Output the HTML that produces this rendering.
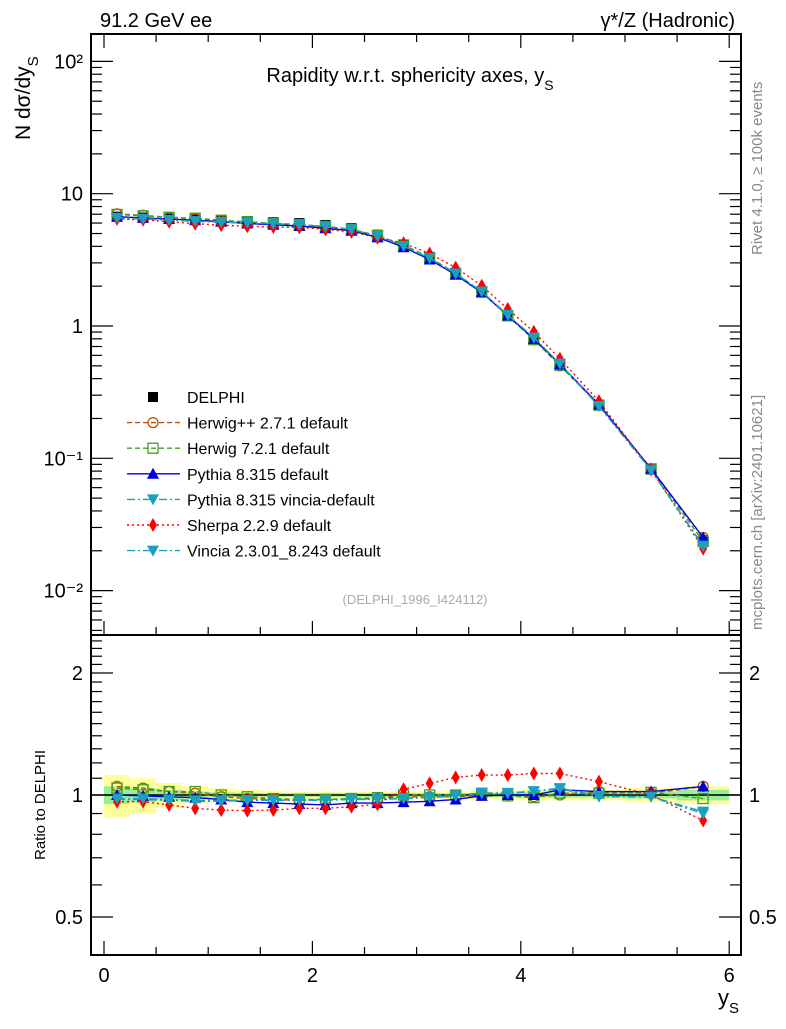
<!DOCTYPE html>
<html><head><meta charset="utf-8"><style>
body{margin:0;background:#fff}
svg text{font-family:"Liberation Sans",sans-serif}
</style></head><body>
<svg id="c" width="786" height="1024" xmlns="http://www.w3.org/2000/svg">
<rect width="786" height="1024" fill="#fff"/>
<g id="bands"></g>
<g id="marks"></g>
<g id="axes"></g>
<g id="legend"></g>
<text x="100" y="27" font-size="20">91.2 GeV ee</text>
<text x="735" y="27" font-size="20" text-anchor="end">γ*/Z (Hadronic)</text>
<text x="410" y="82" font-size="20" text-anchor="middle">Rapidity w.r.t. sphericity axes, y<tspan font-size="14" dy="8">S</tspan></text>
<text transform="translate(30,140) rotate(-90)" font-size="21">N  dσ/dy<tspan font-size="15" dy="8">S</tspan></text>
<text transform="translate(45,860) rotate(-90)" font-size="15">Ratio to DELPHI</text>
<text x="718" y="1005" font-size="22">y<tspan font-size="15" dy="8">S</tspan></text>
<text transform="translate(762,255) rotate(-90)" font-size="15" fill="#888">Rivet 4.1.0, ≥ 100k events</text>
<text transform="translate(762,630) rotate(-90)" font-size="15" fill="#888">mcplots.cern.ch [arXiv:2401.10621]</text>
<text x="415" y="604" font-size="13" fill="#aaa" text-anchor="middle">(DELPHI_1996_I424112)</text>
</svg>
<script>
const binEdges=[0,0.25,0.5,0.75,1,1.25,1.5,1.75,2,2.25,2.5,2.75,3,3.25,3.5,3.75,4,4.25,4.5,5,5.5,6];
const dataVals=[6.7,6.6,6.5,6.4,6.3,6.2,6.1,6.0,5.8,5.5,4.9,4.1,3.3,2.5,1.8,1.2,0.8,0.5,0.25,0.082,0.024];
const yellowErr=[0.12,0.1,0.07,0.05,0.04,0.03,0.025,0.02,0.02,0.02,0.02,0.02,0.02,0.02,0.025,0.025,0.03,0.03,0.03,0.04,0.05];
const greenErr=[0.05,0.04,0.03,0.02,0.015,0.012,0.01,0.01,0.01,0.01,0.01,0.01,0.01,0.01,0.012,0.012,0.015,0.015,0.015,0.02,0.03];
const rHerwigPP=[1.05,1.04,1.02,1.01,0.99,0.98,0.975,0.97,0.975,0.975,0.98,0.99,0.99,0.99,1.0,1.0,0.99,1.0,1.02,1.01,1.05];
const rHerwig7=[1.04,1.03,1.02,1.02,1.0,0.99,0.98,0.975,0.975,0.98,0.985,1.0,1.0,1.0,1.01,0.995,0.985,1.01,1.01,1.015,0.98];
const rPythia=[1.0,0.995,0.99,0.985,0.975,0.96,0.955,0.95,0.945,0.955,0.955,0.96,0.965,0.975,0.995,1.0,1.0,1.03,1.02,1.02,1.05];
const rPyVincia=[0.975,0.975,0.97,0.965,0.965,0.97,0.97,0.97,0.97,0.975,0.975,0.98,0.985,0.995,1.01,1.01,1.02,1.035,0.99,0.99,0.91];
const rSherpa=[0.963,0.963,0.945,0.927,0.918,0.915,0.918,0.927,0.927,0.936,0.948,1.033,1.068,1.105,1.12,1.12,1.13,1.13,1.079,1.0,0.865];
const rVincia=[0.98,0.98,0.975,0.97,0.97,0.972,0.972,0.972,0.972,0.977,0.977,0.982,0.987,0.997,1.012,1.012,1.022,1.04,0.995,0.99,0.9];
const xTicks=[0,2,4,6];
const yTicks=[0.01,0.1,1,10,100];
const yTickLabels=["10⁻²","10⁻¹","1","10","10²"];
const rTicks=[0.5,1,2];

const NS="http://www.w3.org/2000/svg";
const L=91,R=741,T=34,MB=635,RB=955;
const X=v=>104+v*104.2;
const Y=v=>326-Math.log10(v)*132.3;
const RY=v=>795-Math.log2(v)*122;
function el(tag,attrs,parent,txt){const e=document.createElementNS(NS,tag);for(const k in attrs)e.setAttribute(k,attrs[k]);if(txt!==undefined)e.textContent=txt;parent.appendChild(e);return e;}
const bands=document.getElementById('bands'),marks=document.getElementById('marks'),axes=document.getElementById('axes'),legend=document.getElementById('legend');
const centers=dataVals.map((_,i)=>(binEdges[i]+binEdges[i+1])/2);

dataVals.forEach((_,i)=>{
 const x0=X(binEdges[i]),x1=X(binEdges[i+1]);
 let r=el('rect',{x:x0,y:RY(1+yellowErr[i]),width:x1-x0,height:RY(1-yellowErr[i])-RY(1+yellowErr[i]),fill:'#ffff99'},bands);
 
 
 let g=el('rect',{x:x0,y:RY(1+greenErr[i]),width:x1-x0,height:RY(1-greenErr[i])-RY(1+greenErr[i]),fill:'#99ee99'},bands);
 
 
});

function marker(type,x,y,col,p){
 let m;
 if(type==='circle')m=el('circle',{cx:x,cy:y,r:5,fill:'none',stroke:col,'stroke-width':1.3},p);
 else if(type==='osq')m=el('rect',{x:x-5,y:y-5,width:10,height:10,fill:'none',stroke:col,'stroke-width':1.3},p);
 else if(type==='sq')m=el('rect',{x:x-5,y:y-5,width:10,height:10,fill:col},p);
 else if(type==='tri')m=el('polygon',{points:`${x},${y-6} ${x-6},${y+5} ${x+6},${y+5}`,fill:col},p);
 else if(type==='dtri')m=el('polygon',{points:`${x},${y+6} ${x-6},${y-5} ${x+6},${y-5}`,fill:col},p);
 else m=el('polygon',{points:`${x},${y-7} ${x-4},${y} ${x},${y+7} ${x+4},${y}`,fill:col},p);
 return m;
}
// data first (underneath MC)
centers.forEach((c,i)=>{
 const d=marker('sq',X(c),Y(dataVals[i]),'#000',marks);
 
 
});
el('line',{x1:L,x2:R,y1:RY(1),y2:RY(1),stroke:'#000','stroke-width':1.5},marks);

const series=[
 {name:'Herwig++ 2.7.1 default',r:rHerwigPP,col:'#c05000',dash:'5,3',m:'circle'},
 {name:'Herwig 7.2.1 default',r:rHerwig7,col:'#40a020',dash:'5,3',m:'osq'},
 {name:'Pythia 8.315 default',r:rPythia,col:'#0000dd',dash:'',m:'tri'},
 {name:'Pythia 8.315 vincia-default',r:rPyVincia,col:'#1aa0c0',dash:'8,3,2,3',m:'dtri'},
 {name:'Sherpa 2.2.9 default',r:rSherpa,col:'#ff0000',dash:'2,3',m:'dia'},
 {name:'Vincia 2.3.01_8.243 default',r:rVincia,col:'#1aa0c0',dash:'8,3,2,3',m:'dtri'}
];
series.forEach(s=>{
 const g=el('g',{},marks);
 
 
 const main=centers.map((c,i)=>X(c)+','+Y(dataVals[i]*s.r[i])).join(' ');
 const rat=centers.map((c,i)=>X(c)+','+RY(s.r[i])).join(' ');
 el('polyline',{points:main,fill:'none',stroke:s.col,'stroke-width':1.4,'stroke-dasharray':s.dash},g);
 el('polyline',{points:rat,fill:'none',stroke:s.col,'stroke-width':1.4,'stroke-dasharray':s.dash},g);
 centers.forEach((c,i)=>{
  const a=marker(s.m,X(c),Y(dataVals[i]*s.r[i]),s.col,g);
  
  
  const b=marker(s.m,X(c),RY(s.r[i]),s.col,g);
  
  
 });
});

el('rect',{x:L,y:T,width:R-L,height:MB-T,fill:'none',stroke:'#000','stroke-width':2},axes);
el('rect',{x:L,y:MB,width:R-L,height:RB-MB,fill:'none',stroke:'#000','stroke-width':2},axes);
for(let v=0;v<=6.001;v+=0.5){
 const big=Math.abs(v-Math.round(v/2)*2)<1e-6, len=big?14:8;
 [MB,RB].forEach(b=>el('line',{x1:X(v),x2:X(v),y1:b,y2:b-len,stroke:'#000','stroke-width':1.2},axes));
 el('line',{x1:X(v),x2:X(v),y1:T,y2:T+len,stroke:'#000','stroke-width':1.2},axes);
}
xTicks.forEach(v=>{const t=el('text',{x:X(v),y:982,'font-size':20,'text-anchor':'middle'},axes,String(v));});
for(let e=-3;e<=2;e++)for(let k=1;k<=9;k++){
 const v=k*Math.pow(10,e),y=Y(v);if(y<T||y>MB)continue;
 const len=k===1?22:11;
 el('line',{x1:L,x2:L+len,y1:y,y2:y,stroke:'#000','stroke-width':1.2},axes);
 el('line',{x1:R,x2:R-len,y1:y,y2:y,stroke:'#000','stroke-width':1.2},axes);
}
yTicks.forEach((v,i)=>{const t=el('text',{x:83,y:Y(v)+7,'font-size':20,'text-anchor':'end'},axes,yTickLabels[i]);});
for(let v=0.4;v<=2.5;v+=0.1){const y=RY(v);if(y<MB||y>RB)continue;
 const big=rTicks.some(t=>Math.abs(t-v)<1e-6),len=big?22:11;
 el('line',{x1:L,x2:L+len,y1:y,y2:y,stroke:'#000','stroke-width':1.2},axes);
 el('line',{x1:R,x2:R-len,y1:y,y2:y,stroke:'#000','stroke-width':1.2},axes);}
rTicks.forEach(v=>{
 const a=el('text',{x:83,y:RY(v)+7,'font-size':20,'text-anchor':'end'},axes,String(v));
 const b=el('text',{x:749,y:RY(v)+7,'font-size':20},axes,String(v));
});
const leg=[{name:'DELPHI',m:'sq',col:'#000',dash:null}].concat(series);
leg.forEach((s,i)=>{
 const y=397+i*25.6;
 const g=el('g',{},legend);
 
 
 if(s.dash!==null)el('line',{x1:127,x2:180,y1:y,y2:y,stroke:s.col,'stroke-width':1.4,'stroke-dasharray':s.dash},g);
 marker(s.m,153,y,s.col,g);
 el('text',{x:187,y:y+6,'font-size':16},g,s.name);
});
</script>
</body></html>
